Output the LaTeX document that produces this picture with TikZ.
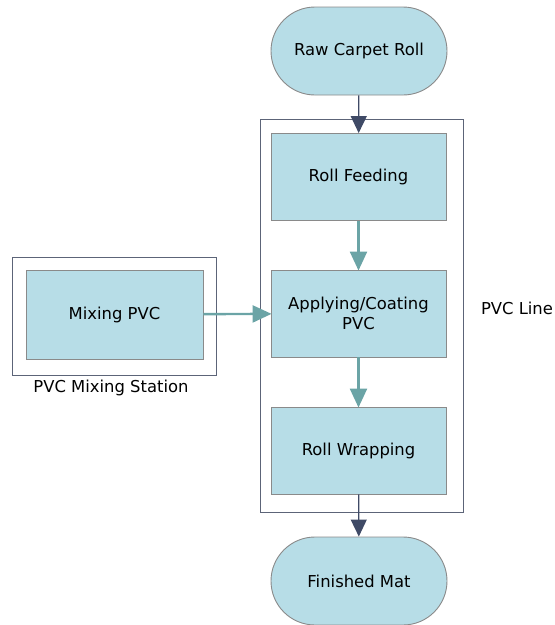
\documentclass[tikz,border=0pt]{standalone}
\usepackage{fontspec}
\setmainfont{DejaVu Sans}
\usetikzlibrary{arrows.meta}
\definecolor{boxfill}{HTML}{B7DDE7}
\definecolor{boxline}{HTML}{8A8A8A}
\definecolor{frameline}{HTML}{5C6478}
\definecolor{darkarrow}{HTML}{3F4A66}
\definecolor{tealarrow}{HTML}{6BA4A6}
\tikzset{
  stepbox/.style={draw=boxline, fill=boxfill, line width=0.9pt, minimum width=175pt, minimum height=87pt, align=center, inner sep=0pt, font=\fontsize{16.4}{19.5}\selectfont},
  terminal/.style={stepbox, minimum width=176pt, minimum height=88pt, rounded corners=44pt},
  frame/.style={draw=frameline, line width=0.9pt},
  darkflow/.style={draw=darkarrow, line width=1.2pt, -{Triangle[width=16pt,length=17pt]}},
  tealflow/.style={draw=tealarrow, line width=2.4pt, -{Triangle[width=17pt,length=19pt]}, shorten >=-1pt},
  caption/.style={font=\fontsize{16.4}{19.5}\selectfont, inner sep=0pt}
}
\begin{document}
\begin{tikzpicture}[x=1pt, y=-1pt]
  \useasboundingbox (0,0) rectangle (555,625);
  % container frames
  \draw[frame] (260,119) rectangle (463,512);
  \draw[frame] (12,257) rectangle (216,375);
  \node[caption] (linelabel) at (517,308) {PVC Line};
  \node[caption] (stationlabel) at (111,388) {PVC Mixing Station};
  % process steps
  \node[terminal] (raw) at (359,51) {Raw Carpet Roll};
  \node[stepbox] (feed) at (358.5,177) {Roll Feeding};
  \node[stepbox] (coat) at (358.5,313.5) {Applying/Coating\\PVC};
  \node[stepbox] (wrap) at (358.5,450.5) {Roll Wrapping};
  \node[stepbox, minimum width=177pt, minimum height=89pt] (mix) at (114.5,314.5) {Mixing PVC};
  \node[terminal] (mat) at (359,581) {Finished Mat};
  % flows
  \draw[darkflow] (raw) -- (feed);
  \draw[tealflow] (feed) -- (coat);
  \draw[tealflow] (mix) -- (coat);
  \draw[tealflow] (coat) -- (wrap);
  \draw[darkflow] (wrap) -- (mat);
\end{tikzpicture}
\end{document}
